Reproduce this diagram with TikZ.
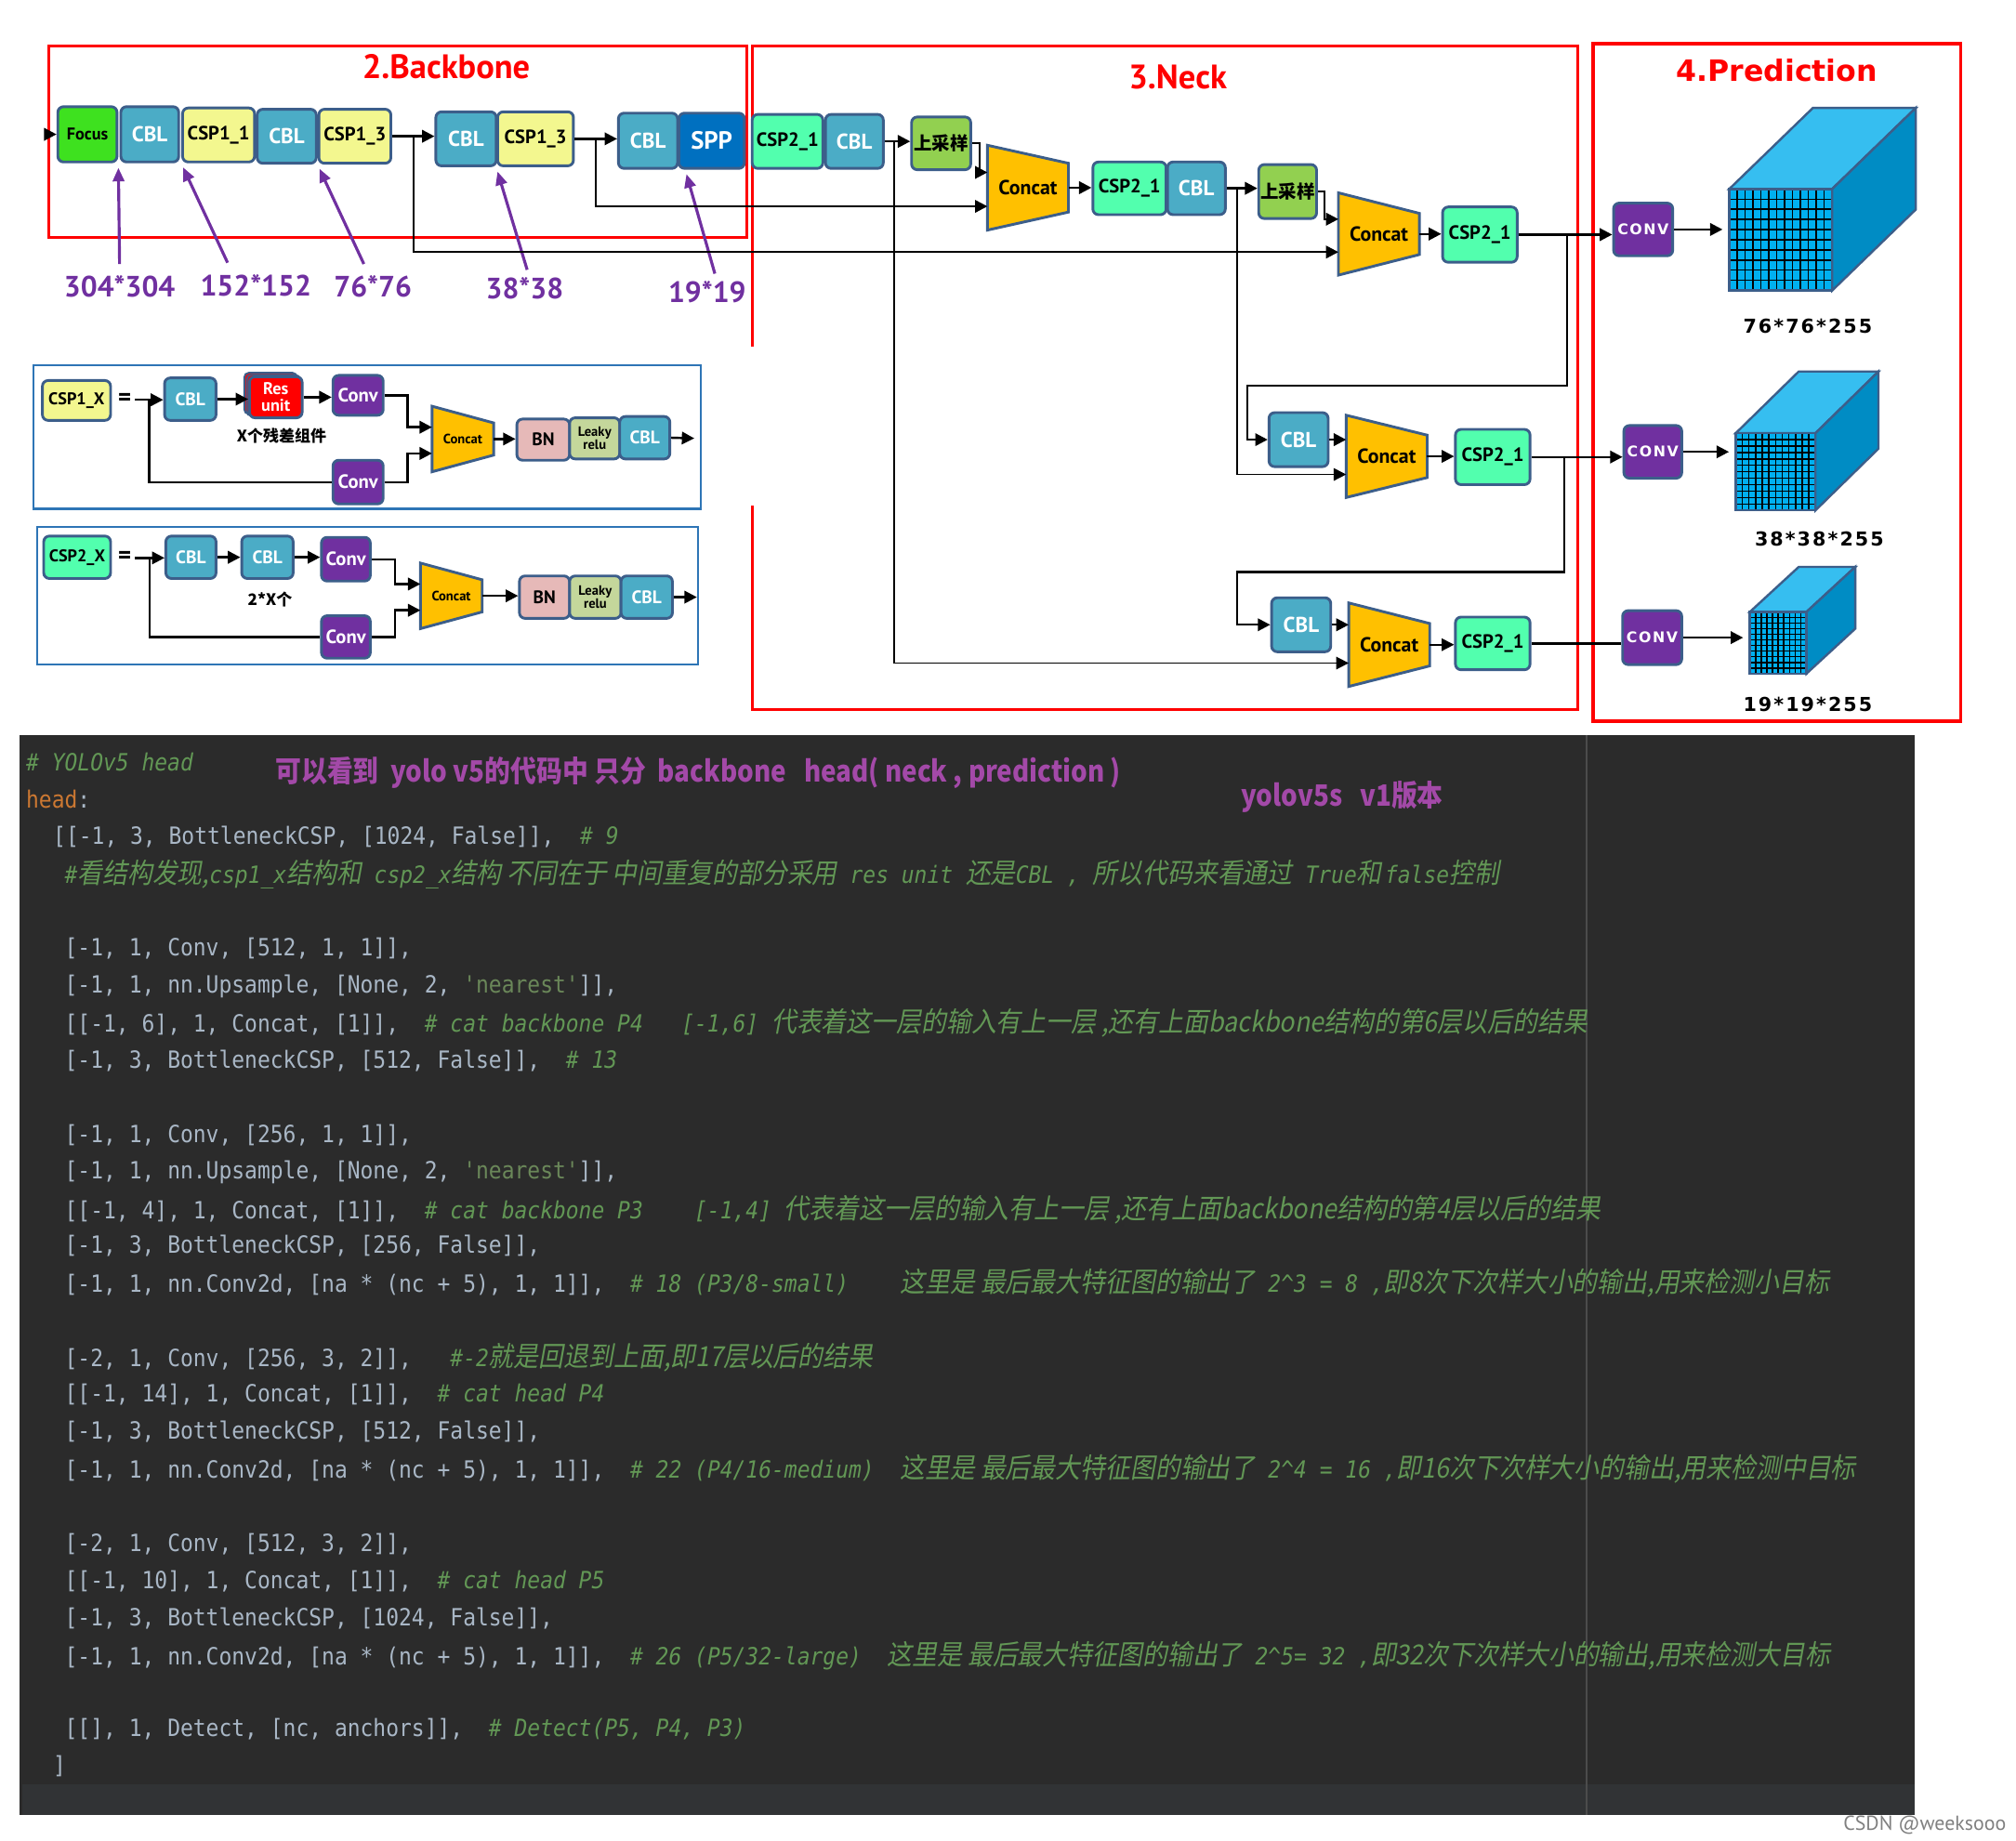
\documentclass[tikz,border=0pt]{standalone}
\usepackage{fontspec}
\setmainfont{PT Sans}
\setmonofont{DejaVu Sans Mono}
\newfontfamily\cjk{Noto Sans CJK SC}
\newfontfamily\cjkit[FakeSlant=0.2,Scale=1.17]{Noto Sans CJK SC}
\newfontfamily\widefont[LetterSpace=10]{DejaVu Sans}
\newfontfamily\dvs{DejaVu Sans}
\usetikzlibrary{shapes,arrows.meta,calc}

\definecolor{cblc}{HTML}{4BACC6}
\definecolor{blkline}{HTML}{3C5E8A}
\definecolor{focusc}{HTML}{3EE11F}
\definecolor{csp1c}{HTML}{F3F78F}
\definecolor{csp2c}{HTML}{52FFAE}
\definecolor{sppc}{HTML}{0070C0}
\definecolor{upc}{HTML}{92D050}
\definecolor{concc}{HTML}{FFC000}
\definecolor{convc}{HTML}{7030A0}
\definecolor{resc}{HTML}{FF0000}
\definecolor{bnc}{HTML}{E6B9B8}
\definecolor{lrc}{HTML}{C4D79B}
\definecolor{sizec}{HTML}{7030A0}
\definecolor{panelc}{HTML}{2E75B6}
\definecolor{cubef}{HTML}{00B0F0}
\definecolor{cubet}{HTML}{36BEF0}
\definecolor{cuber}{HTML}{008CC4}
\definecolor{codebg}{HTML}{2B2B2B}
\definecolor{codebot}{HTML}{313335}
\definecolor{codefg}{HTML}{A9B7C6}
\definecolor{cmtc}{HTML}{629755}
\definecolor{strc}{HTML}{6A8759}
\definecolor{keyc}{HTML}{CC7832}
\definecolor{notec}{HTML}{A349A8}

\newcommand{\fsz}[1]{\fontsize{#1}{#1}\selectfont}
\newcommand{\cmtx}[1]{{\color{cmtc}\itshape #1}}
\newcommand{\zhit}[1]{{\cjkit #1}}
\newcommand{\strlit}[1]{{\color{strc}#1}}
\newcommand{\cl}[1]{\scalebox{0.9}[1]{#1}}

% trapezoid Concat: name, left x, center y, width, left h, right h, font
\newcommand{\concatblk}[7]{%
  \draw[concshape] (#2,#3-#5/2) -- (#2+#4,#3-#6/2) -- (#2+#4,#3+#6/2) -- (#2,#3+#5/2) -- cycle;
  \node[font=#7, inner sep=0pt] (#1) at (#2+#4/2,#3) {Concat};
  \coordinate (#1-a) at (#2,#3-0.18*#5);
  \coordinate (#1-b) at (#2,#3+0.22*#5);
  \coordinate (#1-e) at (#2+#4,#3);
}
% feature cube: name, x, y, w, h, dx, dy, cols, rows
\newcommand{\featcube}[9]{%
  \filldraw[fill=cubet, draw=blkline, line width=1pt] (#2,#3) -- ++(#6,-#7) -- ++(#4,0) -- ++(-#6,#7) -- cycle;
  \filldraw[fill=cuber, draw=blkline, line width=1pt] (#2+#4,#3) -- ++(#6,-#7) -- ++(0,#5) -- ++(-#6,#7) -- cycle;
  \fill[cubef] (#2,#3) rectangle ++(#4,#5);
  \foreach \k in {1,...,#8} \draw[line width=0.6pt] (#2+\k*#4/#8,#3) -- ++(0,#5);
  \foreach \k in {1,...,#9} \draw[line width=0.6pt] (#2,#3+\k*#5/#9) -- ++(#4,0);
  \draw[blkline, line width=1pt] (#2,#3) rectangle ++(#4,#5);
  \coordinate (#1) at (#2,#3+#5/2);
}

\tikzset{
  wh/.style 2 args={minimum width=#1*0.02cm, minimum height=#2*0.02cm},
  blk/.style={draw=blkline, line width=1.2pt, rounded corners=2.5pt, inner sep=0pt, align=center},
  cblbox/.style={blk, fill=cblc, text=white, font=\bfseries\fsz{9.5}},
  csp1box/.style={blk, fill=csp1c, font=\bfseries\fsz{8.5}},
  csp2box/.style={blk, fill=csp2c, font=\bfseries\fsz{8.5}},
  focusbox/.style={blk, fill=focusc, font=\bfseries\fsz{7.5}},
  sppbox/.style={blk, fill=sppc, text=white, font=\bfseries\fsz{11}},
  upbox/.style={blk, fill=upc, font=\cjk\bfseries\fsz{8}},
  convbox/.style={blk, fill=convc, text=white, font=\widefont\bfseries\fsz{6.5}},
  pconv/.style={blk, fill=convc, text=white, font=\bfseries\fsz{8.5}},
  bnbox/.style={blk, fill=bnc, font=\bfseries\fsz{8}},
  lrbox/.style={blk, fill=lrc, font=\bfseries\fsz{6}},
  resbox/.style={blk, fill=resc, text=white, font=\bfseries\fsz{7.5}},
  small/.style={font=\bfseries\fsz{7.5}},
  concshape/.style={fill=concc, draw=blkline, line width=1.2pt},
  arr/.style={-{Triangle[length=5.5pt,width=5.5pt]}, line width=1pt},
  ln/.style={line width=1pt},
  lnthin/.style={line width=0.7pt},
  sizearr/.style={-{Triangle[length=6pt,width=5pt]}, line width=1.3pt, draw=sizec, shorten >=2pt},
  sizelbl/.style={text=sizec, font=\bfseries\fsz{13}, inner sep=0pt},
  cubelbl/.style={font=\widefont\bfseries\fsz{8.5}, inner sep=0pt},
  redbox/.style={draw=red, line width=1.3pt},
  panel/.style={draw=panelc, line width=1.1pt},
  title/.style={text=red, font=\bfseries\fsz{15}},
  eqsign/.style={font=\bfseries\fsz{11}, inner sep=0pt},
  zhlbl/.style={font=\cjk\bfseries\fsz{7}, inner sep=0pt},
  code/.style={anchor=west, inner sep=0pt, text=codefg, font=\ttfamily\fsz{10.5}},
  note/.style={anchor=west, inner sep=0pt, text=notec, font=\cjk\bfseries\fsz{13}},
}

\begin{document}
\begin{tikzpicture}[x=0.02cm, y=-0.02cm]
\fill[white] (0,0) rectangle (1568,1432);
\useasboundingbox (0,0) rectangle (1568,1432);

% ---------- 2. Backbone ----------
\draw[redbox] (38,36) rectangle (581,185);
\node[title] (tback) at (347,52) {2.Backbone};
\coordinate (in0) at (38,104.5);
\node[focusbox, wh={46}{43}] (focus) at (68,104.5) {Focus};
\node[cblbox, wh={45}{43}] (bcbl1) at (116.5,104.5) {CBL};
\node[csp1box, wh={56}{42}] (bcsp1) at (170,105) {CSP1\_1};
\node[cblbox, wh={46}{42}] (bcbl2) at (223,106) {CBL};
\node[csp1box, wh={56}{42}] (bcsp2) at (276,106) {CSP1\_3};
\node[cblbox, wh={47}{42}] (bcbl3) at (362.5,108) {CBL};
\node[csp1box, wh={59}{42}] (bcsp3) at (416.5,108) {CSP1\_3};
\node[cblbox, wh={46}{43}] (bcbl4) at (504,109.5) {CBL};
\node[sppbox, wh={51}{43}] (spp) at (553.5,109.5) {SPP};
\draw[arr] (in0) -- (focus.west);
\draw[arr] (bcsp2.east) -- (bcsp2.east -| bcbl3.west);
\draw[arr] (bcsp3.east) -- (bcsp3.east -| bcbl4.west);

% feature map sizes
\node[sizelbl] (s1) at (93,223) {304*304};
\node[sizelbl] (s2) at (199,222) {152*152};
\node[sizelbl] (s3) at (290,223) {76*76};
\node[sizelbl] (s4) at (408,224) {38*38};
\node[sizelbl] (s5) at (550,227) {19*19};
\draw[sizearr] ([yshift=5pt]s1.north) -- (focus.south east);
\draw[sizearr] ([xshift=-0.44cm,yshift=5pt]s2.north) -- (bcsp1.south west);
\draw[sizearr] ([xshift=-0.14cm,yshift=5pt]s3.north) -- (bcsp2.south west);
\draw[sizearr] ([xshift=0.04cm,yshift=3pt]s4.north) -- (bcsp3.south west);
\draw[sizearr] ([xshift=0.12cm,yshift=3pt]s5.north) -- ([xshift=0.12cm]spp.south west);

% ---------- 3. Neck ----------
\draw[redbox] (585,270) -- (585,36) -- (1227,36) -- (1227,552) -- (585,552) -- (585,393);
\node[title] (tneck) at (916,60) {3.Neck};
\node[csp2box, wh={55}{42}] (ncsp1) at (612.5,110) {CSP2\_1};
\node[cblbox, wh={45}{42}] (ncbl1) at (664.5,110) {CBL};
\node[upbox, wh={46}{41}] (up1) at (732,111.5) {上采样};
\concatblk{nc1}{768}{146}{63}{66}{38}{\bfseries\fsz{9}}
\node[csp2box, wh={57}{41}] (ncsp2) at (878.5,146.5) {CSP2\_1};
\node[cblbox, wh={45}{41}] (ncbl2) at (930.5,146.5) {CBL};
\node[upbox, wh={45}{42}] (up2) at (1001.5,149) {上采样};
\concatblk{nc2}{1041}{182}{63}{64}{32}{\bfseries\fsz{9}}
\node[csp2box, wh={58}{43}] (ncsp3) at (1151,182.5) {CSP2\_1};
\node[cblbox, wh={46}{42}] (mcbl) at (1010,342) {CBL};
\concatblk{nc3}{1047}{355}{63}{64}{33}{\bfseries\fsz{9}}
\node[csp2box, wh={58}{43}] (mcsp) at (1161,355.5) {CSP2\_1};
\node[cblbox, wh={46}{42}] (lcbl) at (1012,486) {CBL};
\concatblk{nc4}{1049}{501.5}{63}{65}{33}{\bfseries\fsz{9}}
\node[csp2box, wh={58}{41}] (lcsp) at (1161,500.5) {CSP2\_1};

\coordinate (j1) at ($(bcsp2.east)!0.5!(bcsp2.east -| bcbl3.west)$);
\coordinate (j2) at ($(bcsp3.east)!0.5!(bcsp3.east -| bcbl4.west)$);
\draw[arr] (j1) |- (nc2-b); % 76*76 branch
\draw[arr] (j2) |- (nc1-b); % 38*38 branch
\draw[arr] (ncbl1.east) -- (ncbl1.east -| up1.west);
\coordinate (j3) at ($(ncbl1.east)!0.36!(ncbl1.east -| up1.west)$);
\draw[arr, lnthin] (j3) |- (nc4-b);
\draw[arr] (up1.east) -- ++(6,0) |- (nc1-a);
\draw[arr] (nc1-e) -- (nc1-e -| ncsp2.west);
\draw[arr] (ncbl2.east) -- (ncbl2.east -| up2.west);
\coordinate (j4) at ($(ncbl2.east)!0.35!(ncbl2.east -| up2.west)$);
\draw[arr, lnthin] (j4) |- (nc3-b);
\draw[arr] (up2.east) -- ++(5,0) |- (nc2-a);
\draw[arr] (nc2-e) -- (nc2-e -| ncsp3.west);

% ---------- 4. Prediction ----------
\draw[redbox] (1239,34) rectangle (1525,561);
\node[text=red, font=\dvs\bfseries\fsz{13}] (tpred) at (1382,55) {4.Prediction};
\node[convbox, wh={46}{41}] (conv1) at (1278,178.5) {CONV};
\node[convbox, wh={45}{41}] (conv2) at (1285.5,351.5) {CONV};
\node[convbox, wh={46}{42}] (conv3) at (1285,496) {CONV};
\featcube{cube1}{1345}{147}{80}{79}{65}{63}{13}{10}
\featcube{cube2}{1350}{337}{62}{60}{49}{48}{12}{12}
\featcube{cube3}{1361}{476}{44}{48}{38}{35}{10}{11}
\node[cubelbl] (lab1) at (1406,254) {76*76*255};
\node[cubelbl] (lab2) at (1415,419) {38*38*255};
\node[cubelbl] (lab3) at (1406,548) {19*19*255};

\draw[arr] (ncsp3.east) -- (ncsp3.east -| conv1.west);
\coordinate (j5) at ($(ncsp3.east)!0.52!(ncsp3.east -| conv1.west)$);
\coordinate (bend1) at (970,300);
\draw[arr] (j5) |- (bend1) |- (mcbl.west);
\draw[arr] (mcbl.east) -- (mcbl.east -| nc3-a);
\draw[arr] (nc3-e) -- (nc3-e -| mcsp.west);
\draw[arr] (mcsp.east) -- (mcsp.east -| conv2.west);
\coordinate (j6) at ($(mcsp.east)!0.36!(mcsp.east -| conv2.west)$);
\coordinate (bend2) at (962,445);
\draw[arr] (j6) |- (bend2) |- (lcbl.west);
\draw[arr] (lcbl.east) -- (lcbl.east -| nc4-a);
\draw[arr, lnthin] (nc4-e) -- (nc4-e -| lcsp.west);
\draw[ln] (lcsp.east) -- (lcsp.east -| conv3.west);
\draw[arr, shorten >=3pt] (conv1.east) -- (conv1.east -| cube1);
\draw[arr, shorten >=3pt] (conv2.east) -- (conv2.east -| cube2);
\draw[arr, shorten >=3pt] (conv3.east) -- (conv3.east -| cube3);

% ---------- CSP1_X ----------
\draw[panel] (26,284) rectangle (545,396);
\node[csp1box, small, wh={53}{31}] (p1) at (59.5,311.5) {CSP1\_X};
\node[eqsign] (eq1) at (97,311) {=};
\coordinate (p1in) at (105,311);
\node[cblbox, font=\bfseries\fsz{8}, wh={40}{33}] (p1cbl) at (148,310.5) {CBL};
\filldraw[fill=resc, draw=blkline, line width=0.8pt, rounded corners=2pt] (190,290) rectangle (231,322);
\filldraw[fill=resc, draw=blkline, line width=0.8pt, rounded corners=2pt] (192,291.5) rectangle (233,323.5);
\node[resbox, wh={41}{32}] (p1res) at (214.5,309) {Res\\unit};
\node[zhlbl] (p1lbl) at (219,339) {X个残差组件};
\node[pconv, wh={39}{31}] (p1conv1) at (278.5,307.5) {Conv};
\node[pconv, wh={39}{34}] (p1conv2) at (278.5,375) {Conv};
\concatblk{p1cc}{336}{341.5}{48}{51}{25}{\bfseries\fsz{6}}
\node[bnbox, wh={41}{32}] (p1bn) at (422.5,342) {BN};
\node[lrbox, wh={39}{32}] (p1lr) at (462.5,341) {Leaky\\relu};
\node[cblbox, font=\bfseries\fsz{8}, wh={39}{33}] (p1cbl2) at (501.5,340.5) {CBL};
\coordinate (p1out) at (540,341);
\draw[arr] (p1in) -- (p1in -| p1cbl.west);
\coordinate (p1j) at ($(p1in)!0.5!(p1in -| p1cbl.west)$);
\draw[ln] (p1j) |- (p1conv2.west);
\draw[arr] (p1cbl.east) -- (p1cbl.east -| p1res.west);
\draw[arr] (p1res.east) -- (p1res.east -| p1conv1.west);
\draw[arr] (p1conv1.east) -- ++(18,0) |- (p1cc-a);
\draw[arr] (p1conv2.east) -- ++(18,0) |- (p1cc-b);
\draw[arr] (p1cc-e) -- (p1cc-e -| p1bn.west);
\draw[arr] (p1cbl2.east) -- (p1out);

% ---------- CSP2_X ----------
\draw[panel] (29,410) rectangle (543,517);
\node[csp2box, small, wh={52}{33}] (p2) at (60,433.5) {CSP2\_X};
\node[eqsign] (eq2) at (97,434) {=};
\coordinate (p2in) at (105,434);
\node[cblbox, font=\bfseries\fsz{8}, wh={39}{33}] (p2cbl1) at (148.5,433.5) {CBL};
\node[cblbox, font=\bfseries\fsz{8}, wh={40}{33}] (p2cbl2) at (208,433.5) {CBL};
\node[pconv, wh={38}{34}] (p2conv1) at (269,435) {Conv};
\node[zhlbl] (p2lbl) at (210,466) {2*X个};
\node[pconv, wh={38}{33}] (p2conv2) at (269,495.5) {Conv};
\concatblk{p2cc}{327}{463.5}{48}{51}{25}{\bfseries\fsz{6}}
\node[bnbox, wh={39}{33}] (p2bn) at (423.5,464.5) {BN};
\node[lrbox, wh={40}{33}] (p2lr) at (463,464.5) {Leaky\\relu};
\node[cblbox, font=\bfseries\fsz{8}, wh={40}{33}] (p2cbl3) at (503,464.5) {CBL};
\coordinate (p2out) at (542,464.5);
\draw[arr] (p2in) -- (p2in -| p2cbl1.west);
\coordinate (p2j) at ($(p2in)!0.5!(p2in -| p2cbl1.west)$);
\draw[ln] (p2j) |- (p2conv2.west);
\draw[arr] (p2cbl1.east) -- (p2cbl1.east -| p2cbl2.west);
\draw[arr] (p2cbl2.east) -- (p2cbl2.east -| p2conv1.west);
\draw[arr] (p2conv1.east) -- ++(18,0) |- (p2cc-a);
\draw[arr] (p2conv2.east) -- ++(18,0) |- (p2cc-b);
\draw[arr] (p2cc-e) -- (p2cc-e -| p2bn.west);
\draw[arr] (p2cbl3.east) -- (p2out);

% ---------- code ----------
\fill[codebg] (15,572) rectangle (1489,1412);
\fill[codebot] (17,1388) rectangle (1489,1412);
\draw[line width=0.5pt, draw=gray!60!black] (1234,572) -- (1234,1412);
\node[note] (n1) at (214,601) {\scalebox{0.88}[1]{可以看到\ \ yolo v5的代码中 只分\ \ backbone\ \ \ head( neck , prediction )}};
\node[note] (n2) at (965,620) {\scalebox{0.88}[1]{yolov5s\ \ \ v1版本}};
\node[code] (c1) at (20,593) {\cl{\cmtx{\# YOLOv5 head}}};
\node[code] (c2) at (20,622) {\cl{{\color{keyc}head}:}};
\node[code] (c3) at (41,651) {\cl{[[-1, 3, BottleneckCSP, [1024, False]],\ \ \cmtx{\# 9}}};
\node[code] (c4) at (50,680) {\cl{\cmtx{\#\zhit{看结构发现,}csp1\_x\zhit{结构和} csp2\_x\zhit{结构 不同在于 中间重复的部分采用} res unit \zhit{还是}CBL , \zhit{所以代码来看通过} True\zhit{和}\hspace{1.5pt}false\zhit{控制}}}};
\node[code] (c5) at (50,738) {\cl{[-1, 1, Conv, [512, 1, 1]],}};
\node[code] (c6) at (50,767) {\cl{[-1, 1, nn.Upsample, [None, 2, \strlit{'nearest'}]],}};
\node[code] (c7) at (50,796) {\cl{[[-1, 6], 1, Concat, [1]],\ \ \cmtx{\# cat backbone P4\ \ \ [-1,6] \zhit{代表着这一层的输入有上一层 ,还有上面backbone结构的第6层以后的结果}}}};
\node[code] (c8) at (50,825) {\cl{[-1, 3, BottleneckCSP, [512, False]],\ \ \cmtx{\# 13}}};
\node[code] (c9) at (50,883) {\cl{[-1, 1, Conv, [256, 1, 1]],}};
\node[code] (c10) at (50,912) {\cl{[-1, 1, nn.Upsample, [None, 2, \strlit{'nearest'}]],}};
\node[code] (c11) at (50,941) {\cl{[[-1, 4], 1, Concat, [1]],\ \ \cmtx{\# cat backbone P3\ \ \ \ [-1,4] \zhit{代表着这一层的输入有上一层 ,还有上面backbone结构的第4层以后的结果}}}};
\node[code] (c12) at (50,969) {\cl{[-1, 3, BottleneckCSP, [256, False]],}};
\node[code] (c13) at (50,998) {\cl{[-1, 1, nn.Conv2d, [na * (nc + 5), 1, 1]],\ \ \cmtx{\# 18 (P3/8-small)\ \ \ \ \zhit{这里是 最后最大特征图的输出了} 2\textasciicircum3 = 8 ,\zhit{即8次下次样大小的输出,用来检测小目标}}}};
\node[code] (c14) at (50,1056) {\cl{[-2, 1, Conv, [256, 3, 2]],\ \ \ \cmtx{\#-2\zhit{就是回退到上面,即17层以后的结果}}}};
\node[code] (c15) at (50,1085) {\cl{[[-1, 14], 1, Concat, [1]],\ \ \cmtx{\# cat head P4}}};
\node[code] (c16) at (50,1114) {\cl{[-1, 3, BottleneckCSP, [512, False]],}};
\node[code] (c17) at (50,1143) {\cl{[-1, 1, nn.Conv2d, [na * (nc + 5), 1, 1]],\ \ \cmtx{\# 22 (P4/16-medium)\ \ \zhit{这里是 最后最大特征图的输出了} 2\textasciicircum4 = 16 ,\zhit{即16次下次样大小的输出,用来检测中目标}}}};
\node[code] (c18) at (50,1201) {\cl{[-2, 1, Conv, [512, 3, 2]],}};
\node[code] (c19) at (50,1230) {\cl{[[-1, 10], 1, Concat, [1]],\ \ \cmtx{\# cat head P5}}};
\node[code] (c20) at (50,1259) {\cl{[-1, 3, BottleneckCSP, [1024, False]],}};
\node[code] (c21) at (50,1288) {\cl{[-1, 1, nn.Conv2d, [na * (nc + 5), 1, 1]],\ \ \cmtx{\# 26 (P5/32-large)\ \ \zhit{这里是 最后最大特征图的输出了} 2\textasciicircum5= 32 ,\zhit{即32次下次样大小的输出,用来检测大目标}}}};
\node[code] (c22) at (50,1345) {\cl{[[], 1, Detect, [nc, anchors]],\ \ \cmtx{\# Detect(P5, P4, P3)}}};
\node[code] (c23) at (41,1374) {\cl{]}};
\node[text=gray, font=\fsz{9}, inner sep=0pt] (wmk) at (1497,1420) {CSDN @weeksooo};
\end{tikzpicture}
\end{document}
